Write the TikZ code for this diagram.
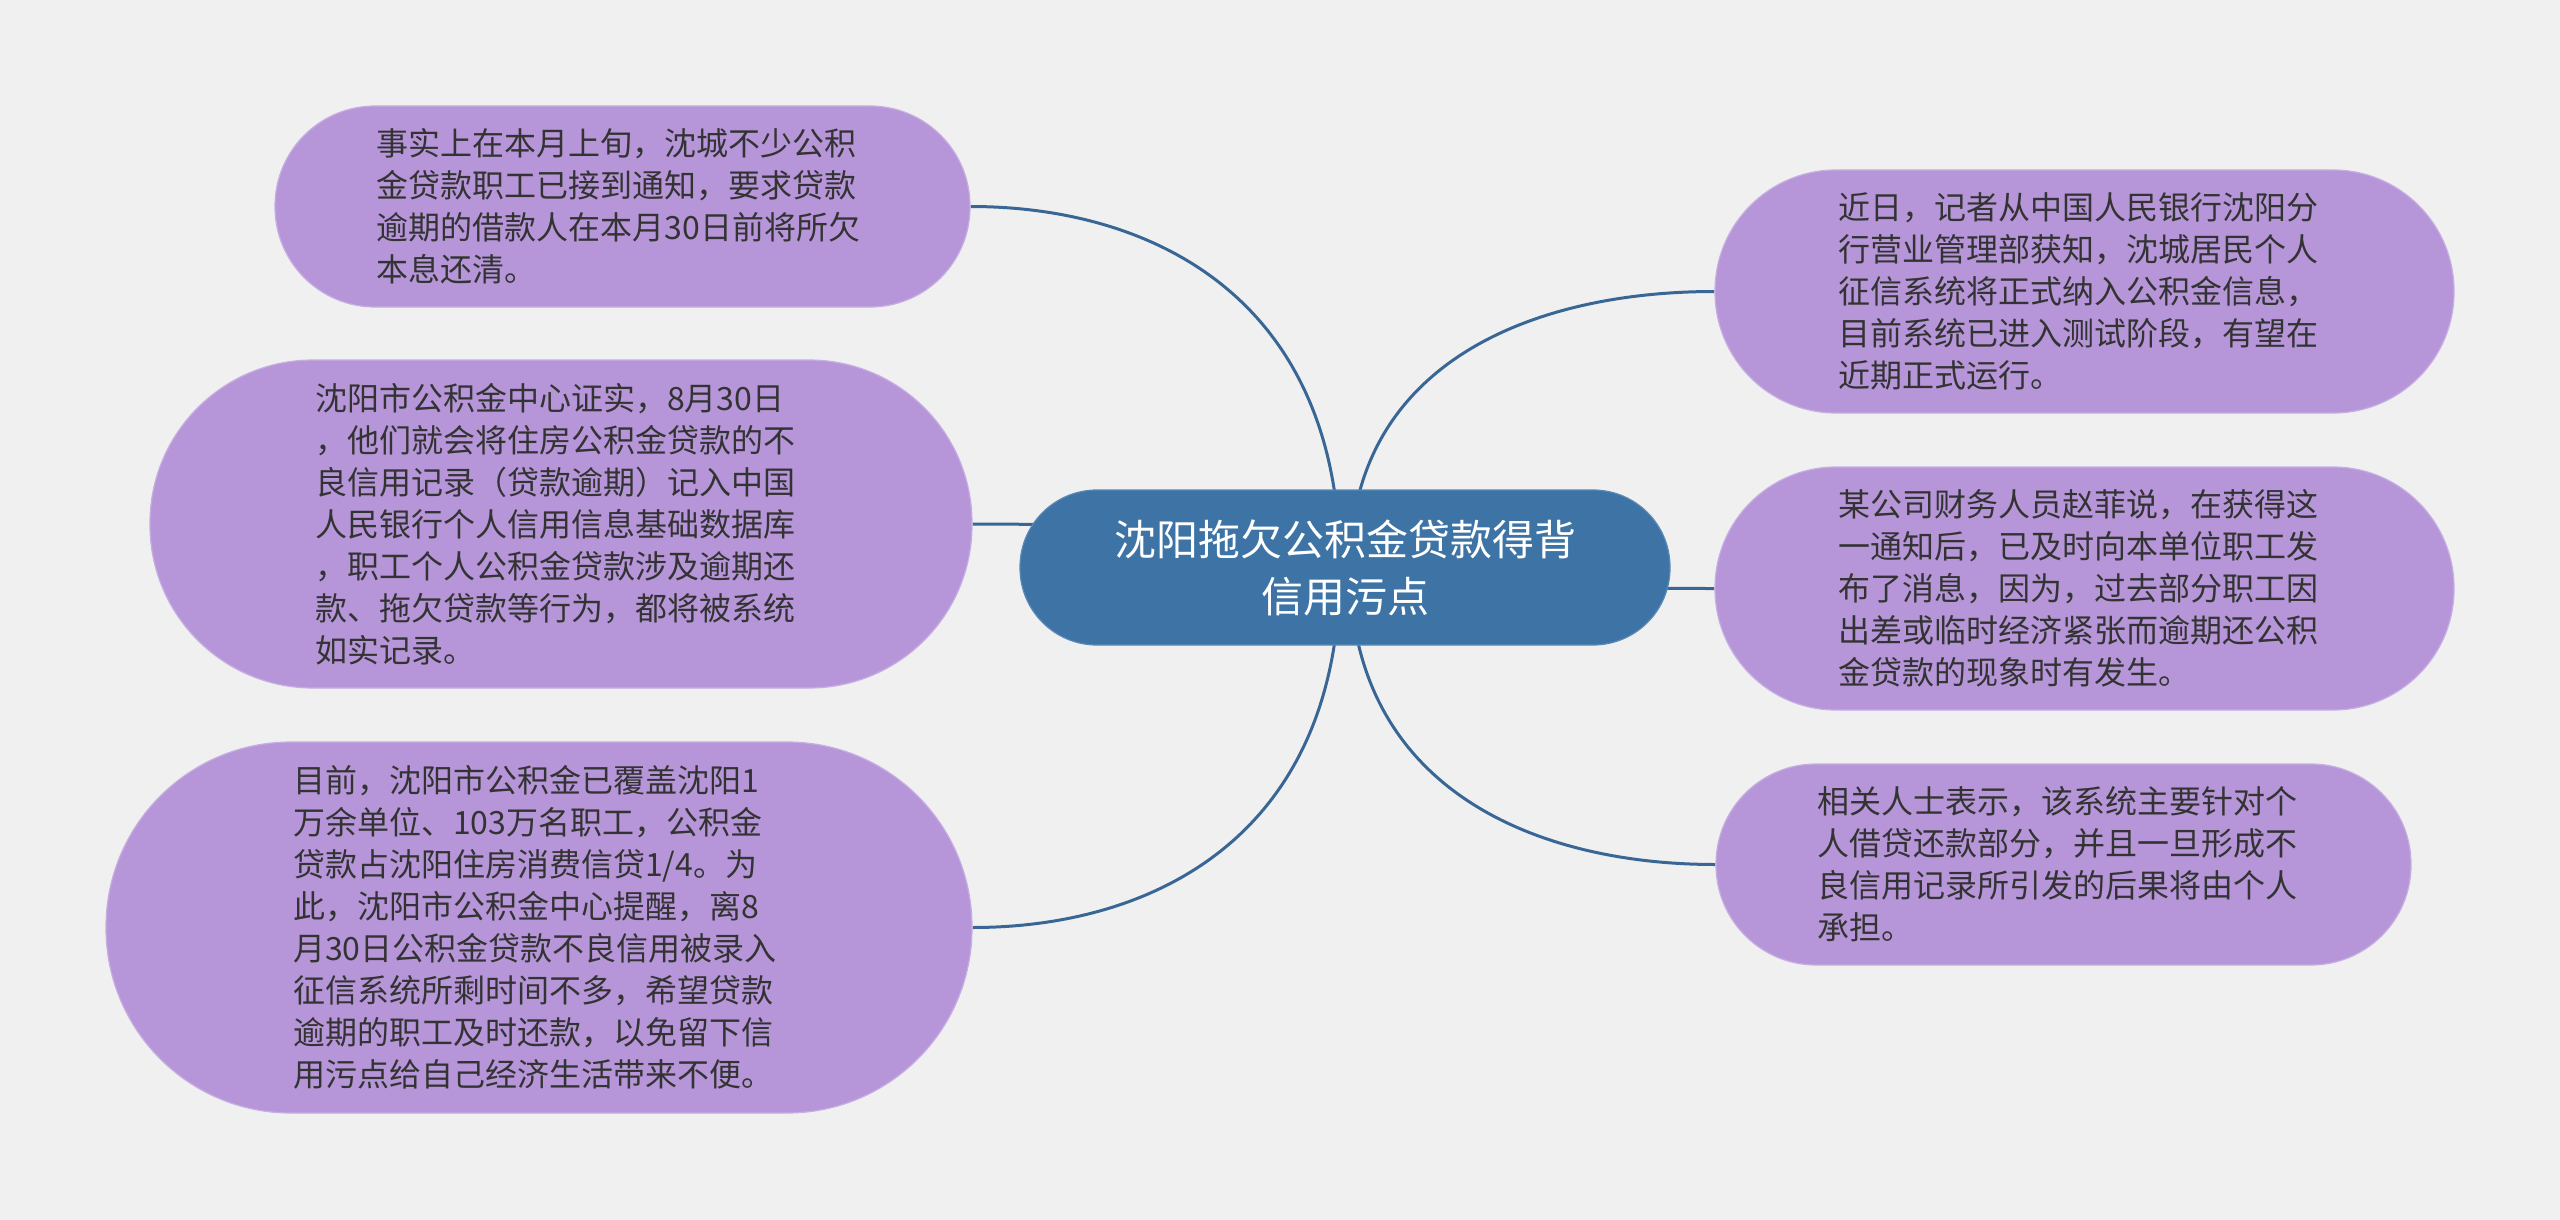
\documentclass[tikz,border=0pt]{standalone}
\usepackage{fontspec}
\newfontfamily\cjk{Noto Sans CJK SC}
\usetikzlibrary{calc}
\pgfdeclarelayer{bg}
\pgfsetlayers{bg,main}
\definecolor{bgc}{HTML}{F0F0F0}
\definecolor{leafc}{HTML}{B696D9}
\definecolor{leafedge}{HTML}{C6AEE2}
\definecolor{rootc}{HTML}{3D74A5}
\definecolor{rootedge}{HTML}{5A89B6}
\definecolor{linkc}{HTML}{386796}
\definecolor{txtc}{HTML}{333333}
\begin{document}
\begin{tikzpicture}[x=1pt,y=-1pt,
  leafnode/.style={draw=leafedge, line width=1.2pt, fill=leafc, text=txtc,
    inner sep=0pt, text width=492pt, align=left,
    font=\cjk\fontsize{32pt}{42pt}\selectfont},
  rootnode/.style={draw=rootedge, line width=1.2pt, fill=rootc, text=white,
    inner sep=0pt, text width=600pt, align=center,
    font=\cjk\fontsize{42pt}{57pt}\selectfont},
  conn/.style={draw=linkc, line width=3pt}]
\useasboundingbox (0,0) rectangle (2560,1220);

\node[rootnode, minimum width=650pt, minimum height=155pt, rounded corners=77pt] (root) at (1345,567.5)
  {沈阳拖欠公积金贷款得背\\信用污点};

\node[leafnode, minimum width=695pt, minimum height=201pt, rounded corners=100pt] (n1) at (622.5,206.5)
  {事实上在本月上旬，沈城不少公积\\金贷款职工已接到通知，要求贷款\\逾期的借款人在本月30日前将所欠\\本息还清。};

\node[leafnode, minimum width=822pt, minimum height=328pt, rounded corners=163pt] (n2) at (561,524)
  {沈阳市公积金中心证实，8月30日\\，他们就会将住房公积金贷款的不\\良信用记录（贷款逾期）记入中国\\人民银行个人信用信息基础数据库\\，职工个人公积金贷款涉及逾期还\\款、拖欠贷款等行为，都将被系统\\如实记录。};

\node[leafnode, minimum width=866pt, minimum height=371pt, rounded corners=185pt] (n3) at (539,927.5)
  {目前，沈阳市公积金已覆盖沈阳1\\万余单位、103万名职工，公积金\\贷款占沈阳住房消费信贷1/4。为\\此，沈阳市公积金中心提醒，离8\\月30日公积金贷款不良信用被录入\\征信系统所剩时间不多，希望贷款\\逾期的职工及时还款，以免留下信\\用污点给自己经济生活带来不便。};

\node[leafnode, minimum width=739pt, minimum height=243pt, rounded corners=121pt] (r1) at (2084.5,291.5)
  {近日，记者从中国人民银行沈阳分\\行营业管理部获知，沈城居民个人\\征信系统将正式纳入公积金信息，\\目前系统已进入测试阶段，有望在\\近期正式运行。};

\node[leafnode, minimum width=739pt, minimum height=243pt, rounded corners=121pt] (r2) at (2084.5,588.5)
  {某公司财务人员赵菲说，在获得这\\一通知后，已及时向本单位职工发\\布了消息，因为，过去部分职工因\\出差或临时经济紧张而逾期还公积\\金贷款的现象时有发生。};

\node[leafnode, minimum width=695pt, minimum height=201pt, rounded corners=100pt] (r3) at (2063.5,864.5)
  {相关人士表示，该系统主要针对个\\人借贷还款部分，并且一旦形成不\\良信用记录所引发的后果将由个人\\承担。};

\coordinate (cl) at (1340,567.5);
\coordinate (cr) at (1350,567.5);

\begin{pgfonlayer}{bg}
\fill[bgc] (0,0) rectangle (2560,1220);
\foreach \t in {n1,n2,n3}{
  \draw[conn] (cl) .. controls ($(cl)!0.74!(cl|-\t.east)$) and ($(\t.east)!0.5!(\t.east-|cl)$) .. (\t.east);
}
\foreach \t in {r1,r2,r3}{
  \draw[conn] (cr) .. controls ($(cr)!0.74!(cr|-\t.west)$) and ($(\t.west)!0.5!(\t.west-|cr)$) .. (\t.west);
}
\end{pgfonlayer}
\end{tikzpicture}
\end{document}
